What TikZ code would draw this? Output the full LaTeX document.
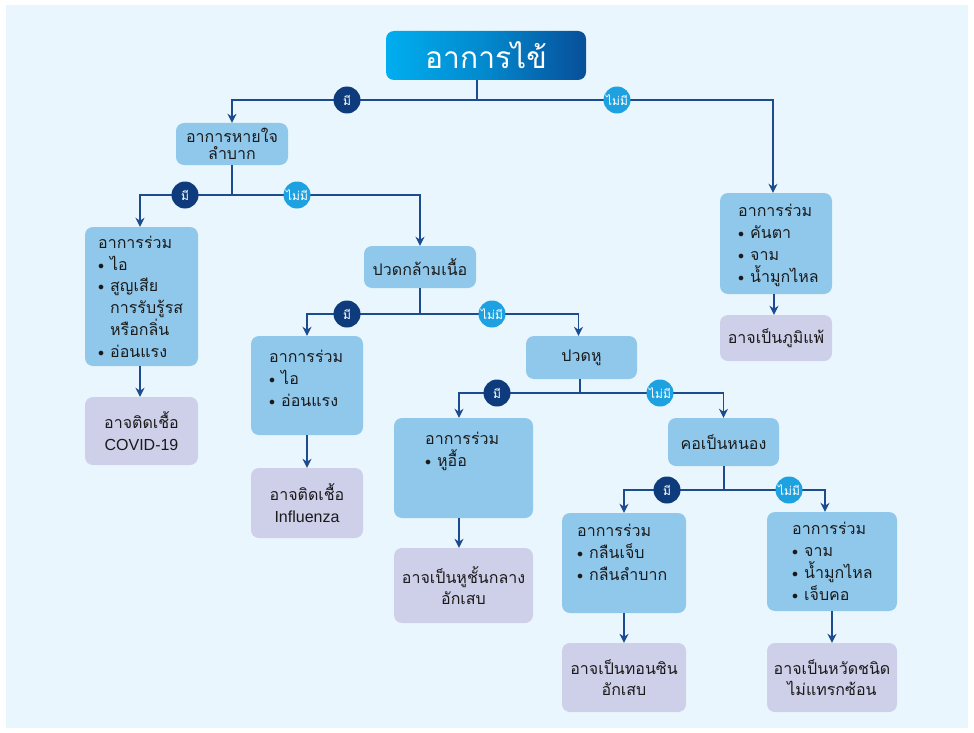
\documentclass[tikz,border=0pt]{standalone}
\usepackage{fontspec}
\setmainfont{Liberation Sans}
\newfontfamily\thai[Script=Thai]{Loma}
\newfontfamily\lat{Liberation Sans}
\usetikzlibrary{arrows.meta}
\definecolor{bgc}{HTML}{EAF6FD}
\definecolor{boxc}{HTML}{90C8EC}
\definecolor{resc}{HTML}{CECFE8}
\definecolor{linec}{HTML}{1D4B8F}
\definecolor{navyc}{HTML}{0E3B7B}
\definecolor{cyanc}{HTML}{1DA1E0}
\definecolor{titleL}{HTML}{00AEEF}
\definecolor{titleR}{HTML}{074F99}
\definecolor{txtc}{HTML}{1A1A1A}
\newcommand\bitem{\makebox[12pt][l]{\raisebox{1pt}{\fontsize{12}{12}\selectfont$\bullet$}}}
\newcommand\bind{\hspace*{12pt}}
\tikzset{
  basefont/.style={font=\thai\fontsize{16}{21.7}\selectfont},
  box/.style={basefont, fill=boxc, rounded corners=8pt, inner sep=0pt, text=txtc, align=center},
  resbox/.style={box, fill=resc},
  lbl/.style={basefont, anchor=base west, inner sep=0pt, align=left, text=txtc},
  ybadge/.style={circle, fill=navyc, text=white, minimum size=27pt, inner sep=0pt, font=\thai\fontsize{12}{12}\selectfont},
  nbadge/.style={ybadge, fill=cyanc},
  con/.style={draw=linec, line width=1.4pt},
  arr/.style={con, -{Stealth[length=9pt,width=9pt]}}
}
\begin{document}
\begin{tikzpicture}[x=1pt,y=-1pt]
\fill[white] (0,0) rectangle (974,733);
\fill[bgc] (6,5) rectangle (968,728);
\useasboundingbox (0,0) rectangle (974,733);

% title
\node[rounded corners=8pt, left color=titleL, right color=titleR, middle color=titleL!60!titleR,
      minimum width=200pt, minimum height=49pt, inner sep=0pt, text=white,
      font=\thai\fontsize{30}{30}\selectfont] (title) at (486,55.5) {อาการไข้};

% level boxes
\node[box, minimum width=112pt, minimum height=42pt, font=\thai\fontsize{16}{17}\selectfont] (breath) at (232,144) {อาการหายใจ\\ลำบาก};
\node[box, minimum width=113pt, minimum height=139pt] (c1) at (141.5,296.5) {};
\node[resbox, minimum width=113pt, minimum height=68pt] (r1) at (141.5,431) {อาจติดเชื้อ\\{\lat COVID-19}};
\node[box, minimum width=112pt, minimum height=42pt] (muscle) at (420,267) {ปวดกล้ามเนื้อ};
\node[box, minimum width=112pt, minimum height=99pt] (c2) at (307,385.5) {};
\node[resbox, minimum width=112pt, minimum height=70pt] (r2) at (307,503) {อาจติดเชื้อ\\{\lat Influenza}};
\node[box, minimum width=111pt, minimum height=43pt] (ear) at (581.5,357.5) {ปวดหู};
\node[box, minimum width=139pt, minimum height=100pt] (c3) at (463.5,468) {};
\node[resbox, minimum width=139pt, minimum height=75pt] (r3) at (463.5,585.5) {อาจเป็นหูชั้นกลาง\\อักเสบ};
\node[box, minimum width=111pt, minimum height=48pt] (throat) at (723.5,442) {คอเป็นหนอง};
\node[box, minimum width=124pt, minimum height=100pt] (c4) at (624,563) {};
\node[resbox, minimum width=124pt, minimum height=69pt] (r4) at (624,677.5) {อาจเป็นทอนซิน\\อักเสบ};
\node[box, minimum width=130pt, minimum height=99pt] (c5) at (832,561.5) {};
\node[resbox, minimum width=130pt, minimum height=69pt] (r5) at (832,677.5) {อาจเป็นหวัดชนิด\\ไม่แทรกซ้อน};
\node[box, minimum width=112pt, minimum height=101pt] (c6) at (776,243.5) {};
\node[resbox, minimum width=112pt, minimum height=46pt] (r6) at (776,338) {อาจเป็นภูมิแพ้};

% symptom texts (anchor = baseline of the last line)
\node[lbl] (t1) at (98,357) {อาการร่วม\\\bitem ไอ\\\bitem สูญเสีย\\\bind การรับรู้รส\\\bind หรือกลิ่น\\\bitem อ่อนแรง};
\node[lbl] (t2) at (269,406) {อาการร่วม\\\bitem ไอ\\\bitem อ่อนแรง};
\node[lbl] (t3) at (425,466) {อาการร่วม\\\bitem หูอื้อ};
\node[lbl] (t4) at (577,580) {อาการร่วม\\\bitem กลืนเจ็บ\\\bitem กลืนลำบาก};
\node[lbl] (t5) at (792,600) {อาการร่วม\\\bitem จาม\\\bitem น้ำมูกไหล\\\bitem เจ็บคอ};
\node[lbl] (t6) at (738,282) {อาการร่วม\\\bitem คันตา\\\bitem จาม\\\bitem น้ำมูกไหล};

% junctions
\coordinate (j1) at (477,100);
\coordinate (j2) at (232,195);
\coordinate (j3) at (420,314);
\coordinate (j4) at (580,393);
\coordinate (j5) at (724,490);

% connectors
\draw[con] (title.south -| j1) -- (j1);
\draw[arr] (j1) -| (breath.north);
\draw[arr] (j1) -| ([xshift=-3pt]c6.north);
\draw[con] (breath.south) -- (j2);
\draw[arr] (j2) -| ([xshift=-1.5pt]c1.north);
\draw[arr] (j2) -| (muscle.north);
\draw[arr] ([xshift=-1.5pt]c1.south) -- ([xshift=-1.5pt]r1.north);
\draw[con] (muscle.south) -- (j3);
\draw[arr] (j3) -| (c2.north);
\draw[arr] (j3) -| ([xshift=-3pt]ear.north);
\draw[arr] (c2.south) -- (r2.north);
\draw[con] (ear.south -| j4) -- (j4);
\draw[arr] (j4) -| ([xshift=-4.5pt]c3.north);
\draw[arr] (j4) -| (throat.north);
\draw[arr] ([xshift=-4.5pt]c3.south) -- ([xshift=-4.5pt]r3.north);
\draw[con] (throat.south -| j5) -- (j5);
\draw[arr] (j5) -| (c4.north);
\draw[arr] (j5) -| ([xshift=-7pt]c5.north);
\draw[arr] (c4.south) -- (r4.north);
\draw[arr] (c5.south) -- (r5.north);
\draw[arr] ([xshift=-2pt]c6.south) -- ([xshift=-2pt]r6.north);

% badges
\node[ybadge] (y1) at (347,100) {มี};
\node[nbadge] (n1) at (617,100) {ไม่มี};
\node[ybadge] (y2) at (185,195) {มี};
\node[nbadge] (n2) at (297,195) {ไม่มี};
\node[ybadge] (y3) at (347,314) {มี};
\node[nbadge] (n3) at (492,314) {ไม่มี};
\node[ybadge] (y4) at (497,393) {มี};
\node[nbadge] (n4) at (660,393) {ไม่มี};
\node[ybadge] (y5) at (667,490) {มี};
\node[nbadge] (n5) at (789,490) {ไม่มี};
\end{tikzpicture}
\end{document}
